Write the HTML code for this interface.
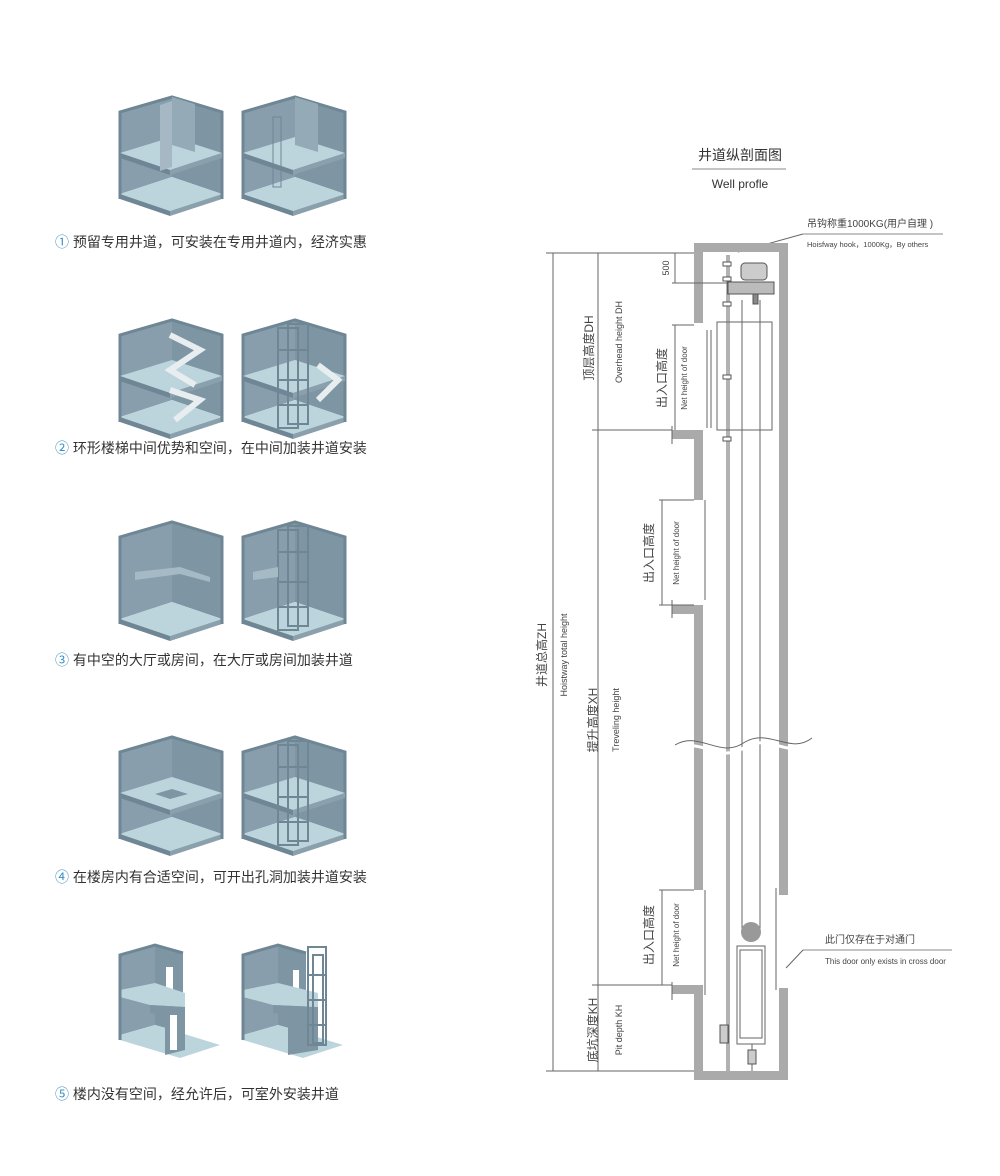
<!DOCTYPE html>
<html><head><meta charset="utf-8"><style>
body{margin:0;background:#fff;}
svg{display:block;font-family:"Liberation Sans","Noto Sans CJK SC",sans-serif;}
</style></head><body>
<svg width="1000" height="1176" viewBox="0 0 1000 1176" xmlns="http://www.w3.org/2000/svg">
<defs>
<g id="cube">
  <polygon points="0,15 52,0 52,80 0,97" fill="#889eac"/>
  <polygon points="52,0 102,15 102,97 52,80" fill="#7e95a4"/>
  <polygon points="0,97 52,80 102,97 50,114" fill="#bcd5dc"/>
  <polygon points="0,97 50,114 50,119 0,102" fill="#6f8694"/>
  <polygon points="50,114 102,97 102,102 50,119" fill="#8aa0ad"/>
  <polyline points="0,102 0,15 52,0 102,15 102,102" fill="none" stroke="#6f8694" stroke-width="3"/>
</g>
<g id="slab">
  <polygon points="0,56 52,40 102,56 50,73" fill="#bcd5dc"/>
  <polygon points="0,56 50,73 50,78 0,61" fill="#6f8694"/>
  <polygon points="50,73 102,56 102,61 50,78" fill="#8aa0ad"/>
</g>
<g id="frame" fill="none" stroke="#6f8694" stroke-width="2">
  <rect x="35" y="8" width="20" height="100"/><rect x="45" y="4" width="20" height="100"/>
  <line x1="35" y1="30" x2="65" y2="30"/><line x1="35" y1="60" x2="65" y2="60"/><line x1="35" y1="85" x2="65" y2="85"/>
</g>
</defs>

<!-- Row 1 -->
<g transform="translate(120,97)"><use href="#cube"/><use href="#slab"/>
 <polygon points="52,0 75,7 75,55 52,48" fill="#95aab7"/><polygon points="40,8 52,4 52,70 40,74" fill="#a5b8c3"/></g>
<g transform="translate(243,97)"><use href="#cube"/><use href="#slab"/>
 <polygon points="52,0 75,7 75,55 52,48" fill="#95aab7"/><rect x="30" y="20" width="8" height="70" fill="none" stroke="#6f8694"/></g>
<text x="55" y="247" font-size="14" fill="#333"><tspan fill="#3a8fc0">①</tspan> 预留专用井道，可安装在专用井道内，经济实惠</text>

<!-- Row 2 -->
<g transform="translate(120,320)"><use href="#cube"/><use href="#slab"/>
 <polyline points="50,15 80,30 50,50 75,65" fill="none" stroke="#e8eef0" stroke-width="6"/>
 <polyline points="50,70 80,80 55,100" fill="none" stroke="#e8eef0" stroke-width="6"/></g>
<g transform="translate(243,320)"><use href="#cube"/><use href="#slab"/><use href="#frame"/>
 <polyline points="75,45 95,60 75,80" fill="none" stroke="#e8eef0" stroke-width="6"/></g>
<text x="55" y="453" font-size="14" fill="#333"><tspan fill="#3a8fc0">②</tspan> 环形楼梯中间优势和空间，在中间加装井道安装</text>

<!-- Row 3 -->
<g transform="translate(120,522)"><use href="#cube"/>
 <polygon points="15,50 60,45 90,55 90,60 60,52 15,58" fill="#a5bac5"/></g>
<g transform="translate(243,522)"><use href="#cube"/><use href="#frame"/>
 <polygon points="10,50 35,45 35,55 10,58" fill="#a5bac5"/></g>
<text x="55" y="665" font-size="14" fill="#333"><tspan fill="#3a8fc0">③</tspan> 有中空的大厅或房间，在大厅或房间加装井道</text>

<!-- Row 4 -->
<g transform="translate(120,737)"><use href="#cube"/><use href="#slab"/>
 <polygon points="35,57 52,52 68,57 50,62" fill="#7e95a4"/></g>
<g transform="translate(243,737)"><use href="#cube"/><use href="#slab"/><use href="#frame"/></g>
<text x="55" y="882" font-size="14" fill="#333"><tspan fill="#3a8fc0">④</tspan> 在楼房内有合适空间，可开出孔洞加装井道安装</text>

<!-- Row 5 -->
<g transform="translate(120,945)">
 <polygon points="0,10 35,0 35,80 0,90" fill="#889eac"/><polygon points="35,0 63,8 63,88 35,80" fill="#7e95a4"/>
 <rect x="46" y="22" width="7" height="35" fill="#fff"/>
 <polygon points="0,90 35,80 100,100 60,113 0,95" fill="#bcd5dc"/>
 <polygon points="0,45 35,38 65,48 65,62 30,60 0,52" fill="#bcd5dc"/>
 <polygon points="30,60 65,62 65,105 45,110 45,70 30,68" fill="#7e95a4"/>
 <rect x="50" y="70" width="7" height="35" fill="#fff"/>
 <polyline points="0,95 0,10 35,0 63,8" fill="none" stroke="#6f8694" stroke-width="3"/>
</g>
<g transform="translate(243,945)">
 <polygon points="0,10 35,0 35,80 0,90" fill="#889eac"/><polygon points="35,0 63,8 63,88 35,80" fill="#7e95a4"/>
 <rect x="50" y="25" width="6" height="30" fill="#fff"/>
 <polygon points="0,90 35,80 100,100 60,113 0,95" fill="#bcd5dc"/>
 <polygon points="0,45 35,38 75,48 75,62 30,60 0,52" fill="#bcd5dc"/>
 <polygon points="30,60 75,62 75,105 45,110 45,70 30,68" fill="#7e95a4"/>
 <g fill="none" stroke="#6f8694" stroke-width="2"><rect x="65" y="2" width="18" height="98"/><rect x="70" y="10" width="10" height="88"/>
 <line x1="65" y1="30" x2="83" y2="30"/><line x1="65" y1="55" x2="83" y2="55"/><line x1="65" y1="80" x2="83" y2="80"/></g>
 <polyline points="0,95 0,10 35,0 63,8" fill="none" stroke="#6f8694" stroke-width="3"/>
</g>
<text x="55" y="1099" font-size="14" fill="#333"><tspan fill="#3a8fc0">⑤</tspan> 楼内没有空间，经允许后，可室外安装井道</text>

<!-- Right diagram -->
<text x="740" y="160" font-size="14" text-anchor="middle" fill="#333">井道纵剖面图</text>
<line x1="692" y1="169" x2="786" y2="169" stroke="#888"/>
<text x="740" y="188" font-size="12" text-anchor="middle" fill="#333">Well profle</text>

<text x="807" y="227" font-size="10" fill="#444">吊钩称重1000KG(用户自理 )</text>
<line x1="803" y1="234" x2="943" y2="234" stroke="#888"/>
<text x="807" y="247" font-size="7.5" fill="#444">Hoisfway hook，1000Kg，By others</text>
<line x1="803" y1="234" x2="738" y2="252" stroke="#666"/>

<!-- shaft walls -->
<g fill="#aaa">
 <rect x="694" y="243" width="94" height="9"/>
 <rect x="779" y="243" width="9" height="652"/>
 <rect x="779" y="988" width="9" height="92"/>
 <rect x="694" y="1071" width="94" height="9"/>
 <rect x="694" y="243" width="9" height="80"/>
 <rect x="694" y="430" width="9" height="70"/>
 <rect x="672" y="430" width="31" height="9"/>
 <rect x="694" y="605" width="9" height="285"/>
 <rect x="672" y="605" width="31" height="9"/>
 <rect x="694" y="985" width="9" height="95"/>
 <rect x="672" y="985" width="31" height="9"/>
</g>
<g stroke="#666" fill="none" stroke-width="1">
 <line x1="672" y1="426" x2="672" y2="444"/><line x1="672" y1="600" x2="672" y2="618"/><line x1="672" y1="982" x2="672" y2="1000"/>
 <line x1="707" y1="330" x2="707" y2="428"/><line x1="711" y1="330" x2="711" y2="428"/>
 <line x1="705" y1="500" x2="705" y2="600"/><line x1="705" y1="890" x2="705" y2="995"/>
 <line x1="776" y1="888" x2="776" y2="990"/>
 <rect x="717" y="322" width="55" height="108" fill="#fff"/>
 <line x1="727" y1="255" x2="727" y2="1071"/><line x1="729" y1="255" x2="729" y2="1071"/>
 <line x1="742" y1="300" x2="742" y2="930"/><line x1="760" y1="300" x2="760" y2="930"/>
 <rect x="737" y="946" width="28" height="98" fill="#fff"/><rect x="740" y="950" width="22" height="88"/>
 <line x1="752" y1="1044" x2="752" y2="1071"/>
 <path d="M675,745 C700,730 720,760 745,742 C770,728 790,755 812,738" />
 <path d="M675,750 C700,735 720,765 745,747 C770,733 790,760 812,743" stroke="#fff" stroke-width="3"/>
 <line x1="803" y1="950" x2="952" y2="950" stroke="#888"/>
 <line x1="803" y1="950" x2="786" y2="968"/>
</g>
<circle cx="751" cy="932" r="10" fill="#999"/>
<!-- hoist -->
<g fill="#888" stroke="#555">
 <rect x="741" y="263" width="26" height="17" rx="4" fill="#ccc"/>
 <rect x="728" y="282" width="46" height="12" fill="#bbb"/>
 <rect x="753" y="294" width="5" height="10"/>
</g>
<g fill="#fff" stroke="#555"><rect x="723" y="262" width="8" height="4"/><rect x="723" y="277" width="8" height="4"/><rect x="723" y="302" width="8" height="4"/><rect x="723" y="375" width="8" height="4"/><rect x="723" y="437" width="8" height="4"/></g>
<rect x="720" y="1025" width="8" height="18" fill="#ccc" stroke="#555"/>
<rect x="748" y="1050" width="8" height="14" fill="#ccc" stroke="#555"/>

<!-- dimension lines -->
<g stroke="#666" stroke-width="1">
 <line x1="546" y1="253" x2="694" y2="253"/>
 <line x1="553" y1="253" x2="553" y2="1071"/>
 <line x1="546" y1="1071" x2="694" y2="1071"/>
 <line x1="598" y1="253" x2="598" y2="1071"/>
 <line x1="592" y1="430" x2="672" y2="430"/>
 <line x1="592" y1="985" x2="672" y2="985"/>
 <line x1="675" y1="253" x2="675" y2="283"/>
 <line x1="672" y1="283" x2="727" y2="283"/>
 <line x1="675" y1="325" x2="675" y2="430"/><line x1="672" y1="325" x2="694" y2="325"/>
 <line x1="662" y1="500" x2="662" y2="605"/><line x1="659" y1="500" x2="694" y2="500"/><line x1="659" y1="605" x2="694" y2="605"/>
 <line x1="662" y1="890" x2="662" y2="985"/><line x1="659" y1="890" x2="694" y2="890"/>
</g>
<g fill="#444">
 <text transform="translate(546,655) rotate(-90)" font-size="12" text-anchor="middle">井道总高ZH</text>
 <text transform="translate(567,655) rotate(-90)" font-size="9" text-anchor="middle">Hoistway total height</text>
 <text transform="translate(593,348) rotate(-90)" font-size="12" text-anchor="middle">顶层高度DH</text>
 <text transform="translate(622,342) rotate(-90)" font-size="9" text-anchor="middle">Overhead height DH</text>
 <text transform="translate(669,268) rotate(-90)" font-size="9" text-anchor="middle">500</text>
 <text transform="translate(666,378) rotate(-90)" font-size="12" text-anchor="middle">出入口高度</text>
 <text transform="translate(687,378) rotate(-90)" font-size="8" text-anchor="middle">Net height of door</text>
 <text transform="translate(653,553) rotate(-90)" font-size="12" text-anchor="middle">出入口高度</text>
 <text transform="translate(679,553) rotate(-90)" font-size="8" text-anchor="middle">Net height of door</text>
 <text transform="translate(653,935) rotate(-90)" font-size="12" text-anchor="middle">出入口高度</text>
 <text transform="translate(679,935) rotate(-90)" font-size="8" text-anchor="middle">Net height of door</text>
 <text transform="translate(597,720) rotate(-90)" font-size="12" text-anchor="middle">提升高度XH</text>
 <text transform="translate(619,720) rotate(-90)" font-size="9" text-anchor="middle">Treveling height</text>
 <text transform="translate(597,1030) rotate(-90)" font-size="12" text-anchor="middle">底坑深度KH</text>
 <text transform="translate(622,1030) rotate(-90)" font-size="9" text-anchor="middle">Pit depth KH</text>
 <text x="825" y="943" font-size="10">此门仅存在于对通门</text>
 <text x="825" y="964" font-size="8">This door only exists in cross door</text>
</g>
</svg>
</body></html>
